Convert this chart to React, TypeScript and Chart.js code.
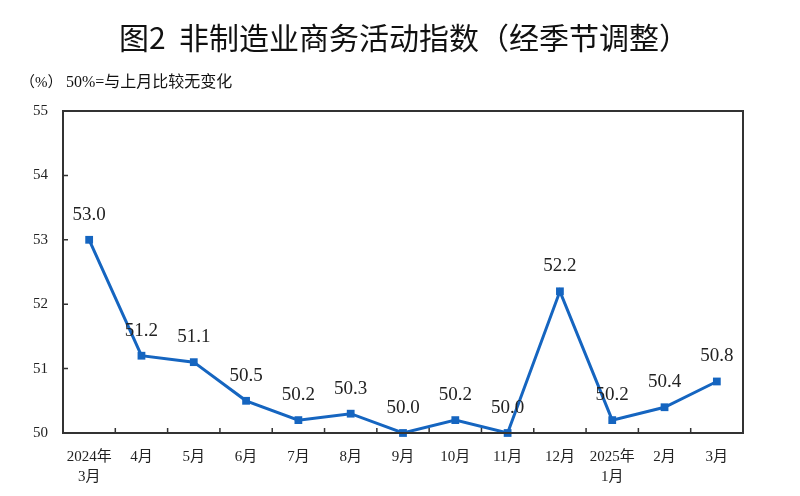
import { useEffect, useRef } from 'react'
import { Chart, registerables } from 'chart.js'

Chart.register(...registerables)

const months = [
  ['2024年', '3月'], ['4月'], ['5月'], ['6月'], ['7月'], ['8月'], ['9月'],
  ['10月'], ['11月'], ['12月'], ['2025年', '1月'], ['2月'], ['3月'],
]
const indexValues = [53.0, 51.2, 51.1, 50.5, 50.2, 50.3, 50.0, 50.2, 50.0, 52.2, 50.2, 50.4, 50.8]
const yMin = 50
const yMax = 55

const title = '图2  非制造业商务活动指数（经季节调整）'
const unitNote = '（%）'
const baseNote = '50%=与上月比较无变化'

const serif = '"Liberation Serif", "Times New Roman", "Noto Sans CJK SC", serif'
const lineBlue = '#1565c0'

// frame, inward tick marks, texts and value labels
const decorations = {
  id: 'decorations',
  afterDraw(chart: any) {
    const { ctx, chartArea } = chart
    const { left, right, top, bottom } = chartArea
    const x = chart.scales.x
    const y = chart.scales.y
    ctx.save()

    ctx.strokeStyle = '#333'
    ctx.lineWidth = 2
    ctx.strokeRect(left, top, right - left, bottom - top)

    ctx.lineWidth = 1.5
    ctx.beginPath()
    const step = x.getPixelForValue(1) - x.getPixelForValue(0)
    for (let i = 1; i < months.length; i++) {
      const px = x.getPixelForValue(i) - step / 2
      ctx.moveTo(px, bottom)
      ctx.lineTo(px, bottom - 5)
    }
    for (let v = yMin + 1; v < yMax; v++) {
      const py = y.getPixelForValue(v)
      ctx.moveTo(left, py)
      ctx.lineTo(left + 5, py)
    }
    ctx.stroke()

    ctx.fillStyle = '#111'
    ctx.textAlign = 'center'
    ctx.textBaseline = 'middle'
    ctx.font = '30px "Noto Sans CJK SC", sans-serif'
    ctx.fillText(title, 404, 38)

    ctx.textAlign = 'left'
    ctx.font = '15px ' + serif
    ctx.fillText(unitNote, 20, 83)
    ctx.font = '16px ' + serif
    ctx.fillText(baseNote, 66, 83)

    const meta = chart.getDatasetMeta(0)
    ctx.font = '19px ' + serif
    ctx.textAlign = 'center'
    ctx.fillStyle = '#222'
    meta.data.forEach((pt: any, i: number) => {
      ctx.fillText(indexValues[i].toFixed(1), pt.x, pt.y - 25)
    })
    ctx.restore()
  },
}

export default function App() {
  const canvasRef = useRef<HTMLCanvasElement>(null)

  useEffect(() => {
    document.body.style.margin = '0'
    if (!canvasRef.current) return

    const chart = new Chart(canvasRef.current, {
      type: 'line',
      data: {
        labels: months,
        datasets: [{
          data: indexValues,
          borderColor: lineBlue,
          backgroundColor: lineBlue,
          borderWidth: 3,
          pointStyle: 'rect',
          pointRadius: 5.5,
          pointBorderWidth: 0,
          tension: 0,
          clip: false,
        }],
      },
      options: {
        responsive: false,
        animation: false,
        layout: { padding: { top: 111, right: 57, left: 0, bottom: 0 } },
        plugins: {
          legend: { display: false },
          tooltip: { enabled: false },
        },
        scales: {
          x: {
            offset: true,
            grid: { display: false, drawTicks: false },
            border: { display: false },
            ticks: {
              color: '#222',
              font: { family: serif, size: 15, lineHeight: 1.35 },
              padding: 14,
              maxRotation: 0,
              autoSkip: false,
            },
            afterFit: (s: any) => { s.height = 63 },
          },
          y: {
            min: yMin,
            max: yMax,
            grid: { display: false, drawTicks: false },
            border: { display: false },
            ticks: {
              stepSize: 1,
              color: '#222',
              font: { family: serif, size: 15 },
              padding: 15,
            },
            afterFit: (s: any) => { s.width = 63 },
          },
        },
      },
      plugins: [decorations],
    })

    return () => chart.destroy()
  }, [])

  return <canvas ref={canvasRef} width={800} height={496}></canvas>
}
